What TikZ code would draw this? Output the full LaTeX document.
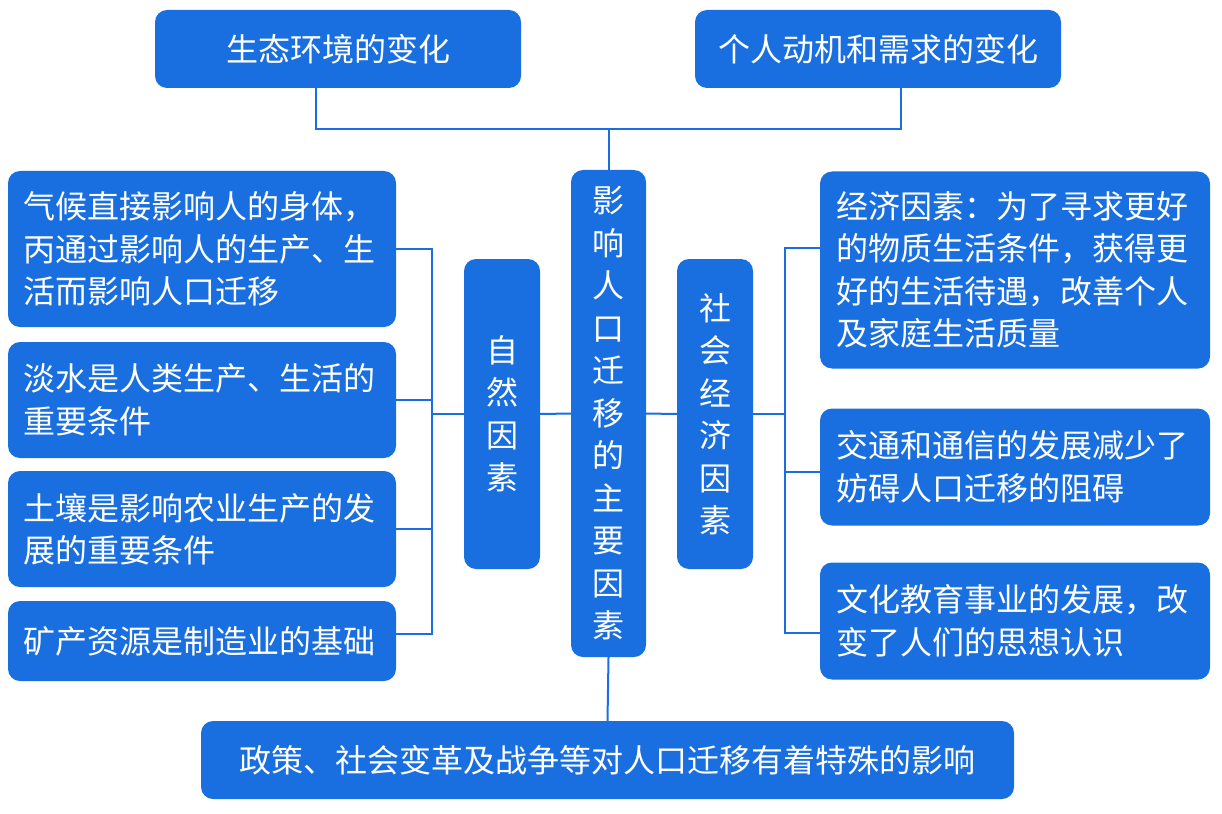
\documentclass[tikz,border=0pt]{standalone}
\usepackage{fontspec}
\usepackage{tikz}
\usetikzlibrary{calc}
\usetikzlibrary{positioning}
\newfontfamily\cjk{Noto Sans CJK SC}
\definecolor{boxblue}{HTML}{1A6FE0}

\tikzset{
  box/.style={fill=boxblue,rounded corners=12pt,text=white,inner sep=0pt,
    font=\cjk\fontsize{32}{42.5}\selectfont},
  sidebox/.style={box,text width=358pt,align=left},
  stackbox/.style={box,minimum width=76pt,align=center},
  link/.style={draw=boxblue,line width=2pt}
}

\begin{document}
\begin{tikzpicture}[x=1pt,y=-1pt]
\useasboundingbox (0,0) rectangle (1222,813);

\node[box,minimum width=366pt,minimum height=78pt] (eco) at (338,49) {生态环境的变化};
\node[box,minimum width=366pt,minimum height=78pt] (need) at (878,49) {个人动机和需求的变化};

\node[stackbox,minimum width=75pt,minimum height=487pt] (main) at (608.5,413.5) {影\\响\\人\\口\\迁\\移\\的\\主\\要\\因\\素};
\node[stackbox,minimum height=310pt] (nat) at (502,414) {自\\然\\因\\素};
\node[stackbox,minimum height=310pt] (soc) at (715,414) {社\\会\\经\\济\\因\\素};

\node[sidebox,minimum width=388pt,minimum height=156pt] (L1) at (202,249) {气候直接影响人的身体，\\丙通过影响人的生产、生\\活而影响人口迁移};
\node[sidebox,minimum width=388pt,minimum height=116pt] (L2) at (202,400) {淡水是人类生产、生活的\\重要条件};
\node[sidebox,minimum width=388pt,minimum height=116pt] (L3) at (202,529) {土壤是影响农业生产的发\\展的重要条件};
\node[sidebox,minimum width=388pt,minimum height=80pt] (L4) at (202,641) {矿产资源是制造业的基础};

\node[sidebox,minimum width=390pt,minimum height=197pt] (R1) at (1015,270) {经济因素：为了寻求更好\\的物质生活条件，获得更\\好的生活待遇，改善个人\\及家庭生活质量};
\node[sidebox,minimum width=390pt,minimum height=117pt] (R2) at (1015,467) {交通和通信的发展减少了\\妨碍人口迁移的阻碍};
\node[sidebox,minimum width=390pt,minimum height=117pt] (R3) at (1015,621) {文化教育事业的发展，改\\变了人们的思想认识};

\node[box,minimum width=813pt,minimum height=78pt] (policy) at (607.5,760) {政策、社会变革及战争等对人口迁移有着特殊的影响};

% top
\coordinate (hub) at (608.5,129);
\coordinate (ta) at ($(eco.south west)!0.44!(eco.south east)$);
\coordinate (tb) at ($(need.south west)!0.563!(need.south east)$);
\draw[link] (ta) |- (hub) -| (tb);
\draw[link] (hub) -- (main.north);

% middle
\draw[link] (nat) -- (main);
\draw[link] (main) -- (soc);
\coordinate (lbus) at (432,414);
\coordinate (rbus) at (785,414);
\draw[link] (nat.west) -- (lbus);
\draw[link] (soc.east) -- (rbus);
\foreach \n/\f in {L1/0.5,L2/0.5,L3/0.5,L4/0.41}
  \draw[link] ($(\n.north east)!\f!(\n.south east)$) -| (lbus);
\foreach \n/\f in {R1/0.39,R2/0.54,R3/0.6}
  \draw[link] ($(\n.north west)!\f!(\n.south west)$) -| (rbus);

% bottom
\draw[link] (main.south) -- (policy.north);
\end{tikzpicture}
\end{document}
